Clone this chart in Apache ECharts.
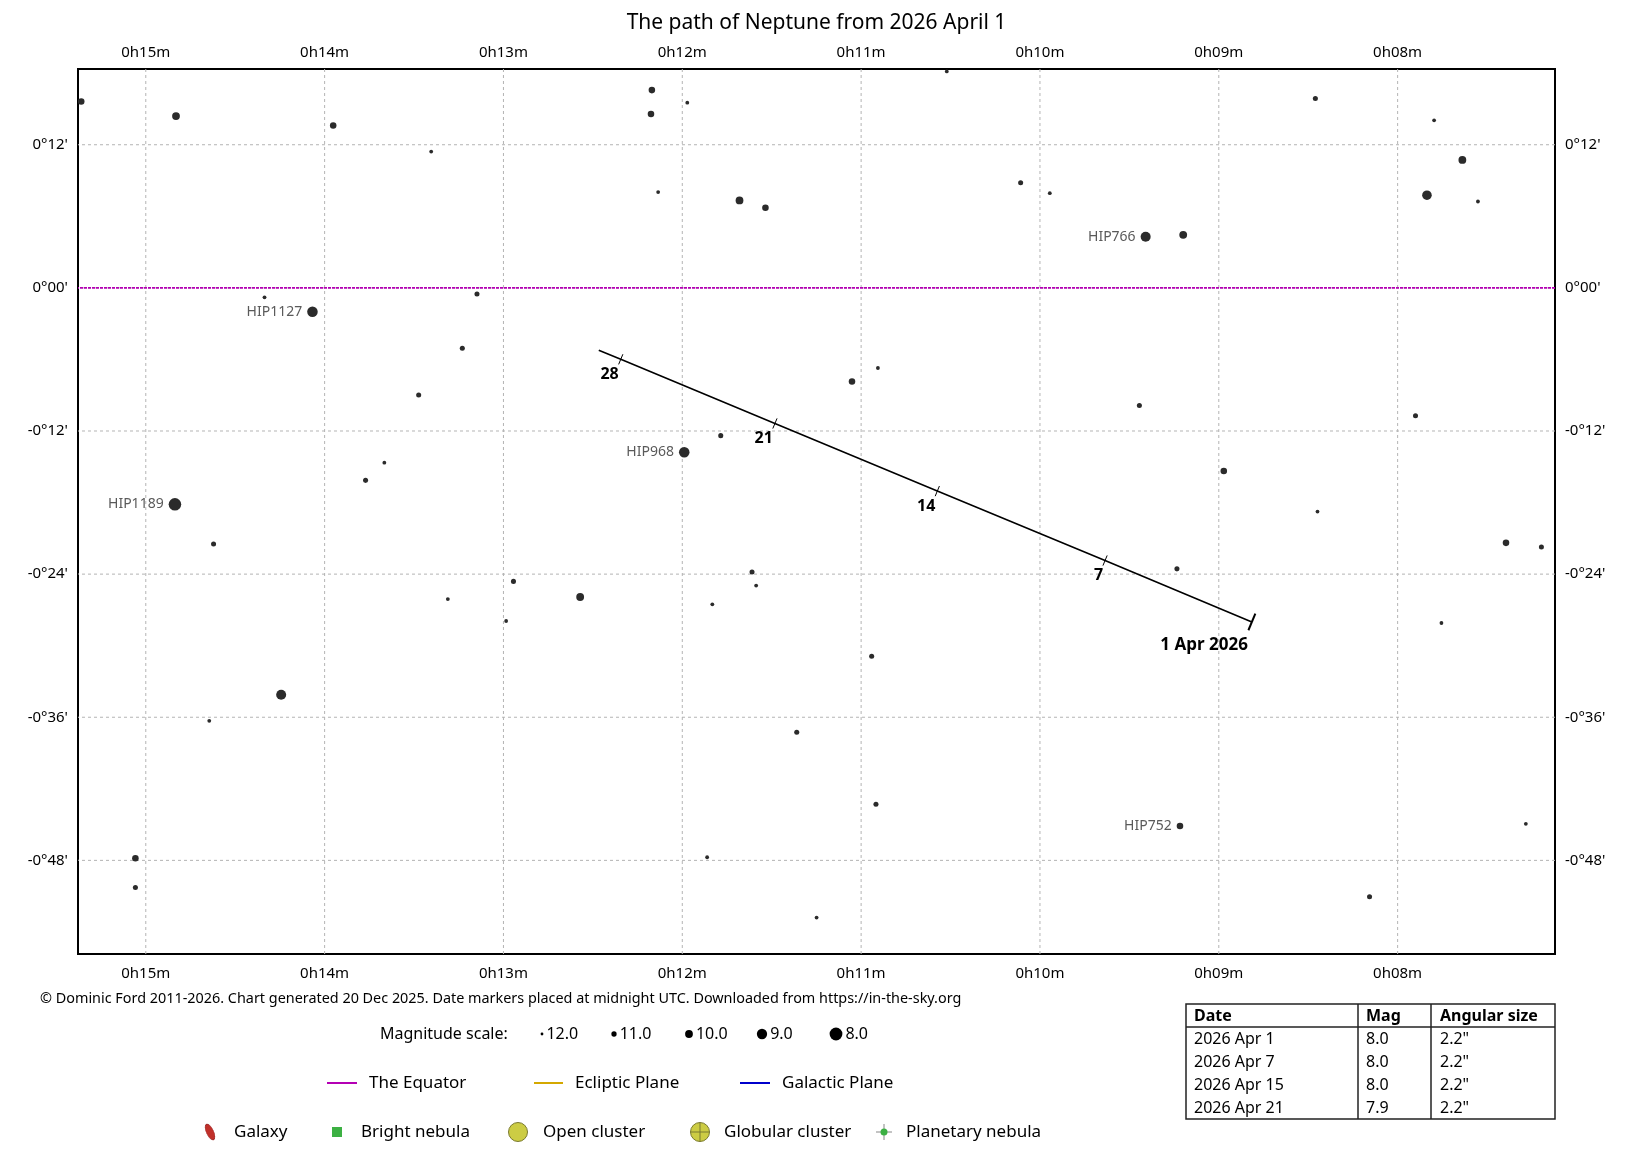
<!DOCTYPE html>
<html lang="en">
<head>
<meta charset="UTF-8">
<title>The path of Neptune</title>
<script src="https://cdn.jsdelivr.net/npm/echarts@6/dist/echarts.min.js"></script>
<style>
  html, body { margin: 0; padding: 0; background: #fff; }
  #chart { width: 1633px; height: 1151px; }
</style>
</head>
<body>
<div id="chart"></div>
<script>
// right ascension in minutes of time past 0h, declination in arcminutes
var starRA = [15.361, 14.831, 13.952, 13.404, 12.170, 12.175, 11.972, 10.521, 12.135, 11.680,
              11.535, 10.108, 9.945, 8.460, 7.796, 7.638, 7.836, 7.551, 9.409, 9.199,
              14.336, 14.068, 13.148, 13.230, 13.474, 11.051, 10.906, 9.444, 7.900, 11.785,
              11.989, 13.666, 13.771, 14.837, 14.621, 8.972, 8.448, 7.394, 7.196, 9.234,
              11.610, 11.587, 12.944, 12.571, 13.311, 11.832, 12.985, 7.755, 10.941, 14.243,
              14.645, 11.360, 10.917, 9.217, 7.283, 15.058, 11.861, 15.058, 8.157, 11.249];
var starDec = [15.62, 14.40, 13.61, 11.43, 16.58, 14.57, 15.53, 18.15, 8.03, 7.33,
               6.72, 8.81, 7.94, 15.88, 14.05, 10.73, 7.77, 7.24, 4.28, 4.45,
               -0.79, -2.01, -0.52, -5.06, -8.99, -7.85, -6.72, -9.86, -10.73, -12.39,
               -13.79, -14.66, -16.14, -18.15, -21.47, -15.36, -18.76, -21.38, -21.73, -23.56,
               -23.82, -24.96, -24.61, -25.92, -26.09, -26.53, -27.93, -28.10, -30.89, -34.12,
               -36.30, -37.26, -43.29, -45.12, -44.94, -47.82, -47.74, -50.27, -51.05, -52.80];
var starMag = [10.5, 10.0, 10.5, 11.6, 10.5, 10.5, 11.6, 11.6, 11.6, 10.0,
               10.5, 11.1, 11.6, 11.1, 11.6, 10.0, 9.3, 11.6, 9.1, 10.0,
               11.6, 8.9, 11.1, 11.1, 11.1, 10.5, 11.6, 11.1, 11.1, 11.1,
               8.9, 11.6, 11.1, 8.1, 11.1, 10.5, 11.6, 10.5, 11.1, 11.1,
               11.1, 11.6, 11.1, 10.0, 11.6, 11.6, 11.6, 11.6, 11.1, 9.1,
               11.6, 11.1, 11.1, 10.5, 11.6, 10.5, 11.6, 11.1, 11.1, 11.6];
var starName = ['', '', '', '', '', '', '', '', '', '',
                '', '', '', '', '', '', '', '', 'HIP766', '',
                '', 'HIP1127', '', '', '', '', '', '', '', '',
                'HIP968', '', '', 'HIP1189', '', '', '', '', '', '',
                '', '', '', '', '', '', '', '', '', '',
                '', '', '', 'HIP752', '', '', '', '', '', ''];

// Neptune, April 2026 (day of month)
var pathDay = [1, 7, 14, 21, 28, 29];
var pathRA = [8.815, 9.636, 10.574, 11.482, 12.344, 12.467];
var pathDec = [-28.01, -22.86, -17.04, -11.37, -5.99, -5.24];

var raTicks = [8, 9, 10, 11, 12, 13, 14, 15];
var decTicks = [-48, -36, -24, -12, 0, 12];
var magScale = [12, 11, 10, 9, 8];

var tableDate = ['2026 Apr 1', '2026 Apr 7', '2026 Apr 15', '2026 Apr 21'];
var tableMag = ['8.0', '8.0', '8.0', '7.9'];
var tableSize = ['2.2"', '2.2"', '2.2"', '2.2"'];

var RA_MIN = 7.120, RA_MAX = 15.379;
var DEC_MIN = -55.85, DEC_MAX = 18.35;
var FONT = '"Noto Sans", "DejaVu Sans", sans-serif';

function magSize(m) {
    return 2.8 + (12 - m) * 2.5;
}
function pad2(n) {
    return (n < 10 ? '0' : '') + n;
}
function raLabel(v) {
    return '0h' + pad2(Math.round(v)) + 'm';
}
function decLabel(v) {
    var a = Math.abs(Math.round(v));
    var s = v < 0 ? '-' : '';
    return s + Math.floor(a / 60) + '\u00b0' + pad2(a % 60) + "'";
}

var chart = echarts.init(document.getElementById('chart'));

var stars = [];
for (var i = 0; i < starRA.length; i++) {
    var item = {
        value: [starRA[i], starDec[i]],
        symbolSize: magSize(starMag[i])
    };
    if (starName[i]) {
        item.label = {
            show: true, position: 'left', distance: 5, formatter: starName[i],
            color: '#5a5a5a', fontSize: 14, fontFamily: FONT
        };
    }
    stars.push(item);
}

var path = [];
for (var i = 0; i < pathRA.length; i++) path.push([pathRA[i], pathDec[i]]);

var marks = [];
for (var i = 0; i < pathDay.length - 1; i++) marks.push([pathRA[i], pathDec[i], pathDay[i]]);

function xAxisCfg(pos, margin) {
    return {
        type: 'value', position: pos, inverse: true, min: RA_MIN, max: RA_MAX,
        axisLine: { show: false }, axisTick: { show: false }, splitLine: { show: false },
        axisLabel: {
            customValues: raTicks, formatter: raLabel, margin: margin,
            color: '#000', fontSize: 15, fontFamily: FONT
        }
    };
}
function yAxisCfg(pos) {
    return {
        type: 'value', position: pos, min: DEC_MIN, max: DEC_MAX,
        axisLine: { show: false }, axisTick: { show: false }, splitLine: { show: false },
        axisLabel: {
            customValues: decTicks, formatter: decLabel, margin: 10,
            color: '#000', fontSize: 15, fontFamily: FONT
        }
    };
}

// footer, legends and the table
var graphics = [];
function txt(x, y, s, size, opts) {
    opts = opts || {};
    graphics.push({
        type: 'text', x: x, y: y, z: 10,
        style: {
            text: s, fill: opts.fill || '#000',
            font: (opts.bold ? 'bold ' : '') + size + 'px ' + FONT,
            textAlign: opts.align || 'left', textVerticalAlign: 'middle'
        }
    });
}
function seg(x1, y1, x2, y2, color, w) {
    graphics.push({
        type: 'line', z: 10, shape: { x1: x1, y1: y1, x2: x2, y2: y2 },
        style: { stroke: color, lineWidth: w }
    });
}

txt(40, 999, '\u00a9 Dominic Ford 2011-2026. Chart generated 20 Dec 2025. Date markers placed at midnight UTC. Downloaded from https://in-the-sky.org', 14.4);

txt(380, 1034, 'Magnitude scale:', 16);
var magX = [542, 614, 689, 762, 836];
for (var i = 0; i < magScale.length; i++) {
    graphics.push({
        type: 'circle', z: 10, shape: { cx: magX[i], cy: 1034, r: magSize(magScale[i]) / 2 },
        style: { fill: '#000' }
    });
    txt(magX[i] + magSize(magScale[i]) / 2 + 3, 1034, magScale[i].toFixed(1), 16);
}

seg(327, 1083, 357, 1083, '#b400b4', 2);
txt(369, 1083, 'The Equator', 17);
seg(534, 1083, 563, 1083, '#d4a800', 2);
txt(575, 1083, 'Ecliptic Plane', 17);
seg(740, 1083, 770, 1083, '#0000cc', 2);
txt(782, 1083, 'Galactic Plane', 17);

graphics.push({
    type: 'circle', z: 10, x: 210, y: 1132, scaleX: 0.42, rotation: 0.45,
    shape: { cx: 0, cy: 0, r: 8.5 }, style: { fill: '#c0302a', stroke: '#9a2020', lineWidth: 1 }
});
txt(234, 1132, 'Galaxy', 17);
graphics.push({
    type: 'rect', z: 10, shape: { x: 332, y: 1127, width: 10, height: 10 },
    style: { fill: '#3cb043' }
});
txt(361, 1132, 'Bright nebula', 17);
graphics.push({
    type: 'circle', z: 10, shape: { cx: 518, cy: 1132, r: 9.5 },
    style: { fill: '#cccc44', stroke: '#7a7a30', lineWidth: 1 }
});
txt(543, 1132, 'Open cluster', 17);
graphics.push({
    type: 'circle', z: 10, shape: { cx: 700, cy: 1132, r: 9.5 },
    style: { fill: '#cccc44', stroke: '#7a7a30', lineWidth: 1 }
});
seg(690.5, 1132, 709.5, 1132, '#7a7a30', 1);
seg(700, 1122.5, 700, 1141.5, '#7a7a30', 1);
txt(724, 1132, 'Globular cluster', 17);
seg(876, 1132, 892, 1132, '#888', 1);
seg(884, 1124, 884, 1140, '#888', 1);
graphics.push({
    type: 'circle', z: 11, shape: { cx: 884, cy: 1132, r: 3.5 },
    style: { fill: '#3cb043' }
});
txt(906, 1132, 'Planetary nebula', 17);

// table
var tL = 1186, tR = 1555, tT = 1004, tB = 1119, tH = 1027, c1 = 1358, c2 = 1431;
graphics.push({
    type: 'rect', z: 10, shape: { x: tL, y: tT, width: tR - tL, height: tB - tT },
    style: { fill: 'none', stroke: '#222', lineWidth: 1.5 }
});
seg(tL, tH, tR, tH, '#222', 1.5);
seg(c1, tT, c1, tB, '#222', 1.5);
seg(c2, tT, c2, tB, '#222', 1.5);
txt(tL + 8, 1016, 'Date', 16, { bold: true });
txt(c1 + 8, 1016, 'Mag', 16, { bold: true });
txt(c2 + 9, 1016, 'Angular size', 16, { bold: true });
for (var i = 0; i < tableDate.length; i++) {
    var ry = 1039 + i * 23;
    txt(tL + 8, ry, tableDate[i], 16);
    txt(c1 + 8, ry, tableMag[i], 16);
    txt(c2 + 9, ry, tableSize[i], 16);
}

var option = {
    backgroundColor: '#fff',
    animation: false,
    title: {
        text: 'The path of Neptune from 2026 April 1',
        left: 'center', top: 8,
        textStyle: { color: '#000', fontSize: 21, fontWeight: 'normal', fontFamily: FONT }
    },
    grid: {
        left: 78, right: 78, top: 69, bottom: 197,
        show: true, borderColor: '#000', borderWidth: 2, backgroundColor: 'transparent'
    },
    xAxis: [xAxisCfg('bottom', 12), xAxisCfg('top', 9)],
    yAxis: [yAxisCfg('left'), yAxisCfg('right')],
    graphic: graphics,
    series: [
        {
            name: 'raGrid', type: 'custom', z: 1, silent: true, clip: true,
            data: raTicks.map(function (v) { return [v, 0]; }),
            renderItem: function (params, api) {
                var a = api.coord([api.value(0), DEC_MAX]);
                var b = api.coord([api.value(0), DEC_MIN]);
                return {
                    type: 'line', shape: { x1: a[0], y1: a[1], x2: b[0], y2: b[1] },
                    style: { stroke: '#b4b4b4', lineWidth: 1, lineDash: [3, 3] }
                };
            }
        },
        {
            name: 'decGrid', type: 'custom', z: 1, silent: true, clip: true,
            data: decTicks.map(function (v) { return [raTicks[0], v]; }),
            renderItem: function (params, api) {
                var a = api.coord([RA_MIN, api.value(1)]);
                var b = api.coord([RA_MAX, api.value(1)]);
                return {
                    type: 'line', shape: { x1: a[0], y1: a[1], x2: b[0], y2: b[1] },
                    style: { stroke: '#b4b4b4', lineWidth: 1, lineDash: [3, 3] }
                };
            }
        },
        {
            name: 'The Equator', type: 'line', z: 2, silent: true, symbol: 'none',
            data: [[RA_MIN, 0], [RA_MAX, 0]],
            lineStyle: { color: '#b400b4', width: 1.6, type: [3, 1] }
        },
        {
            name: 'Stars', type: 'scatter', z: 3, silent: true, clip: true,
            symbol: 'circle', itemStyle: { color: '#2b2b2b', opacity: 1 },
            data: stars
        },
        {
            name: 'Neptune', type: 'line', z: 4, silent: true, symbol: 'none',
            data: path, lineStyle: { color: '#000', width: 1.6 }
        },
        {
            name: 'Date markers', type: 'custom', z: 5, silent: true, clip: false,
            data: marks,
            renderItem: function (params, api) {
                var p = api.coord([api.value(0), api.value(1)]);
                var day = api.value(2);
                var s = api.coord([pathRA[0], pathDec[0]]);
                var e = api.coord([pathRA[pathRA.length - 1], pathDec[pathDec.length - 1]]);
                var dx = e[0] - s[0], dy = e[1] - s[1];
                var len = Math.sqrt(dx * dx + dy * dy);
                var nx = -dy / len, ny = dx / len;
                var first = day === 1;
                var h = first ? 9 : 5.5;
                var children = [{
                    type: 'line',
                    shape: { x1: p[0] - nx * h, y1: p[1] - ny * h, x2: p[0] + nx * h, y2: p[1] + ny * h },
                    style: { stroke: '#000', lineWidth: first ? 2 : 1 }
                }, {
                    type: 'text',
                    x: first ? p[0] - 4 : p[0] - 2,
                    y: first ? p[1] + 23 : p[1] + 15,
                    style: {
                        text: first ? '1 Apr 2026' : String(day),
                        font: 'bold ' + (first ? 17 : 16) + 'px ' + FONT,
                        fill: '#000', textAlign: 'right', textVerticalAlign: 'middle'
                    }
                }];
                return { type: 'group', children: children };
            }
        }
    ]
};

chart.setOption(option);
</script>
</body>
</html>
